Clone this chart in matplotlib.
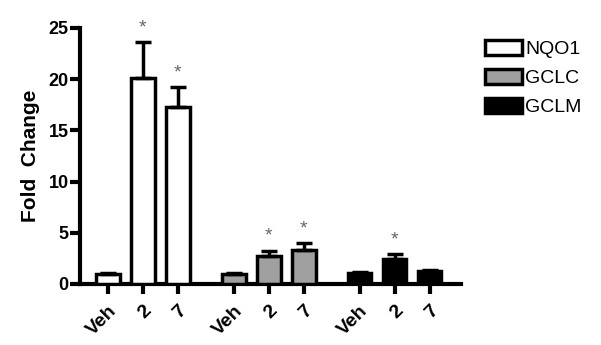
import matplotlib.pyplot as plt
import matplotlib.patches as mpatches
import numpy as np

plt.rcParams['font.family'] = ['Liberation Sans', 'DejaVu Sans']

genes = ["NQO1", "GCLC", "GCLM"]
tick_labels = ["Veh", "2", "7"]
colors = ["white", "#a0a0a0", "black"]

# fold change per gene: Veh, 2, 7
means = {
	"NQO1": [1.0, 20.1, 17.3],
	"GCLC": [1.0, 2.7, 3.35],
	"GCLM": [1.05, 2.45, 1.3],
}
errs = {
	"NQO1": [0.1, 3.5, 1.9],
	"GCLC": [0.1, 0.55, 0.6],
	"GCLM": [0.1, 0.45, 0.1],
}
signif = {
	"NQO1": [False, True, True],
	"GCLC": [False, True, True],
	"GCLM": [False, True, False],
}

fig = plt.figure(figsize=(6.01, 3.45), dpi=100)
ax = fig.add_axes([0.133, 0.177, 0.634, 0.742])

group_gap = 3.6
xticks = []
xlabels = []
for g, gene in enumerate(genes):
	x = np.arange(3) + g * group_gap
	m = np.array(means[gene])
	e = np.array(errs[gene])
	ax.bar(x, m, width=0.68, color=colors[g], edgecolor="black", linewidth=2.5,
		yerr=[np.zeros(3), e], error_kw=dict(ecolor="black", elinewidth=2.5, capsize=6, capthick=2.5),
		zorder=3)
	for xi, mi, ei, s in zip(x, m, e, signif[gene]):
		if s:
			ax.text(xi, mi + ei + 0.6, "*", ha="center", va="bottom", fontsize=14, color="#666666")
	xticks.extend(x)
	xlabels.extend(tick_labels)

ax.set_xlim(-0.8, 10.1)
ax.set_ylim(0, 25)
ax.set_yticks([0, 5, 10, 15, 20, 25])
ax.set_xticks(xticks)
ax.set_xticklabels(xlabels, rotation=45, ha="right", rotation_mode="anchor",
	fontsize=14, fontweight="bold")
for lab in ax.get_yticklabels():
	lab.set_fontsize(13)
	lab.set_fontweight("bold")

for side in ["top", "right"]:
	ax.spines[side].set_visible(False)
for side in ["left", "bottom"]:
	ax.spines[side].set_linewidth(3)
ax.tick_params(axis="both", width=3, length=7, direction="out")
ax.tick_params(axis="x", pad=6)
ax.tick_params(axis="y", pad=1)
ax.set_ylabel("Fold  Change", fontsize=15, fontweight="bold", labelpad=6)

handles = [mpatches.Patch(facecolor=c, edgecolor="black", linewidth=2.5) for c in colors]
fig.legend(handles, genes, loc="upper left", bbox_to_anchor=(0.778, 0.935), frameon=False,
	fontsize=14, handlelength=1.9, handleheight=0.8, labelspacing=0.55, handletextpad=0.15)

fig.savefig("out.png", dpi=100)
